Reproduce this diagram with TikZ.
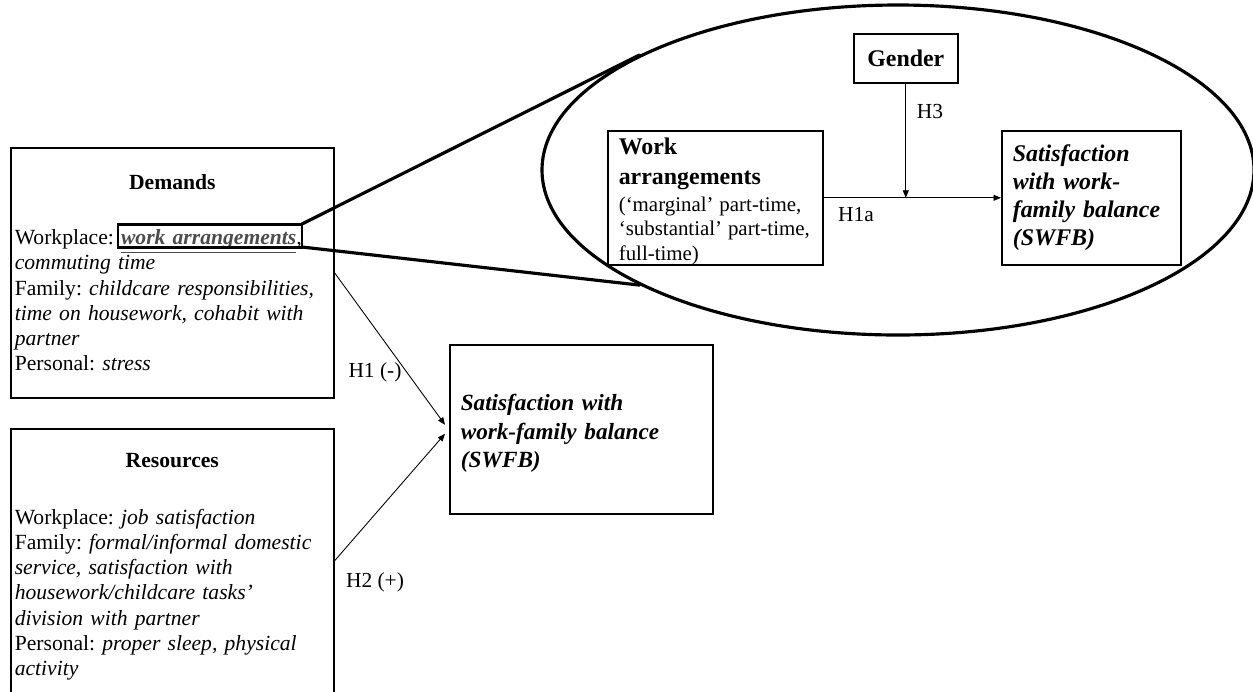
\documentclass[tikz,border=0pt]{standalone}
\usepackage{fontspec}
\setmainfont{Liberation Serif}
\usetikzlibrary{shapes.geometric,arrows.meta,calc}

\newlength{\du}
\setlength{\du}{0.02cm}

\tikzset{
  frame/.style={draw, line width=0.9pt, anchor=north west, inner ysep=0pt, align=left},
  zoomline/.style={line width=1.8pt, line cap=round},
  link/.style={line width=0.5pt, -{Triangle[length=1.5mm,width=1.2mm]}},
  hyp/.style={inner sep=0pt, font=\fontsize{12.2}{14}\selectfont},
}
\definecolor{markcolor}{rgb}{0.300000, 0.300000, 0.300000}

\begin{document}
\frenchspacing
\begin{tikzpicture}
\pgftransformxscale{1.000000}
\pgftransformyscale{-1.000000}
\useasboundingbox (0\du,0\du) rectangle (1253\du,691\du);
% left side
\node[frame, inner xsep=4\du, text width=315\du, minimum height=250\du,
  font=\fontsize{12.3}{14.3}\selectfont] (dem) at (10\du,147\du){\hfill{\bfseries Demands}\hfill\null\\[17pt]
Workplace: \textcolor{markcolor}{\textbf{\textit{\underline{work arrangements}}}}\textit{,}\\
\textit{commuting time}\\
Family: \textit{childcare responsibilities,}\\
\textit{time on housework, cohabit with}\\
\textit{partner}\\
Personal: \textit{stress}};
\node[frame, inner xsep=4\du, text width=315\du, minimum height=276\du,
  font=\fontsize{12.3}{14.3}\selectfont] (res) at (10\du,428\du){\hfill{\bfseries Resources}\hfill\null\\[18pt]
Workplace: \textit{job satisfaction}\\
Family: \textit{formal/informal domestic}\\
\textit{service, satisfaction with}\\
\textit{housework/childcare tasks'}\\
\textit{division with partner}\\
Personal: \textit{proper sleep, physical}\\
\textit{activity}};
\node[frame, inner xsep=11\du, text width=241\du, minimum height=169\du,
  font=\fontsize{13.2}{16.2}\selectfont\bfseries\itshape] (mid) at (449\du,344\du){\rule{0pt}{14pt}Satisfaction with\\work-family balance\\(SWFB)};
\node[draw, line width=1.7pt, inner sep=0pt, outer sep=0pt, anchor=north west,
  minimum width=184\du, minimum height=23\du] (hl) at (118\du,224\du){};
% zoomed part
\node[draw, ellipse, line width=1.8pt, inner sep=0pt, minimum width=712\du,
  minimum height=330\du] (zoom) at (898\du,170\du){};
\node[frame, inner xsep=11\du, text width=193\du, minimum height=134\du] (work) at (607\du,130\du){{\fontsize{13.6}{17}\selectfont\bfseries\rule{0pt}{13.5pt}Work\\arrangements\par}\vspace{1.5pt}
{\fontsize{11.9}{13.9}\selectfont (`marginal' part-time,\\`substantial' part-time,\\full-time)\par}};
\node[frame, inner xsep=11\du, text width=157\du, minimum height=134\du,
  font=\fontsize{13.6}{16}\selectfont\bfseries\itshape] (swfb) at (1001\du,130\du){Satisfaction\\with work-\\family balance\\(SWFB)};
\node[frame, align=center, minimum width=104\du, minimum height=49\du,
  font=\fontsize{13.6}{16}\selectfont\bfseries] (gender) at (853\du,33\du){Gender};
\draw[zoomline] (hl.north east)--(zoom.156.7);
\draw[zoomline] (hl.south east)--(zoom.204.3);
% hypotheses
\draw[link] (dem.east)--($(mid.west)+(-4\du,-4.5\du)$);
\draw[link] ($(res.east)+(0\du,-6\du)$)--($(mid.west)+(-4\du,4.5\du)$);
\draw[link] (work.east)--(swfb.west);
\draw[link] (gender.south)--(gender.south |- work.east);
\node[hyp] (h1) at (375\du,372\du){H1 (-)};
\node[hyp] (h2) at (375\du,582\du){H2 (+)};
\node[hyp] (h3) at (930\du,111\du){H3};
\node[hyp] (h1a) at (856\du,215\du){H1a};
\end{tikzpicture}
\end{document}
